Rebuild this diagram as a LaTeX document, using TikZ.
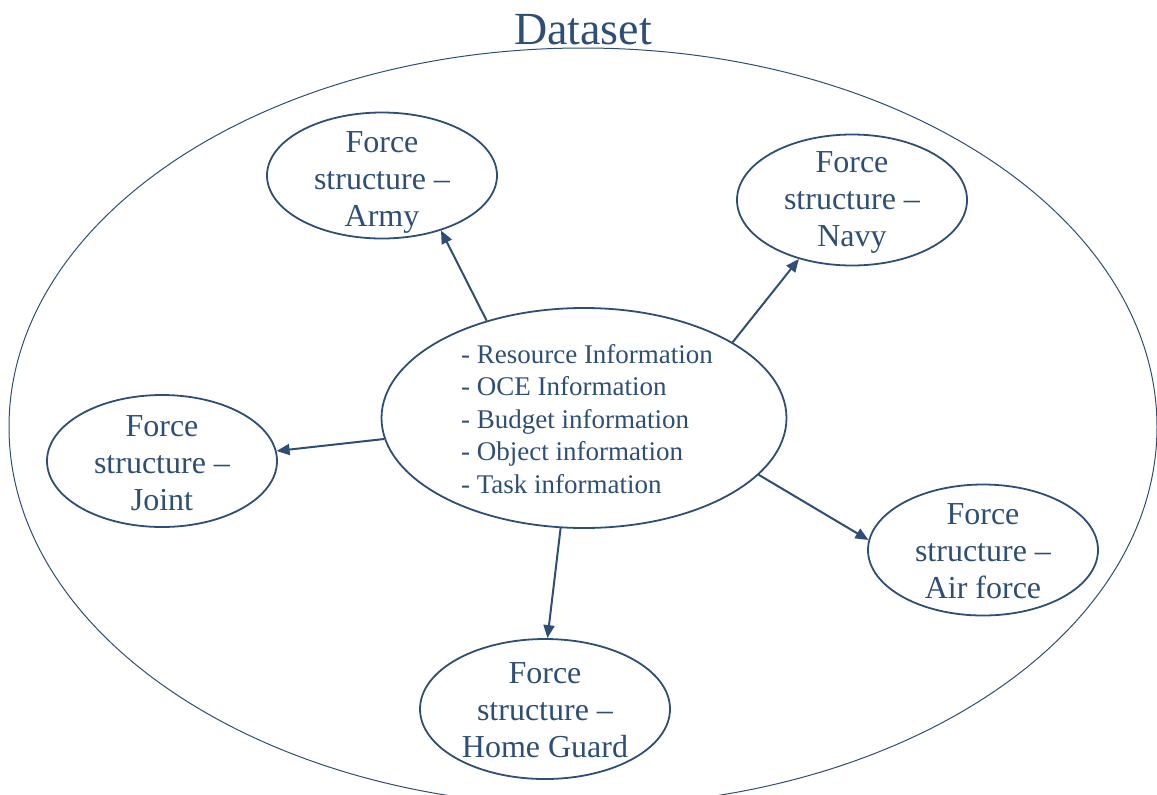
\documentclass[tikz,border=0pt]{standalone}
\usepackage{fontspec}
\setmainfont{Liberation Serif}
\usepackage{xcolor}
\usetikzlibrary{shapes.geometric, arrows.meta, positioning}
\definecolor{dsblue}{RGB}{46,78,117}
\tikzset{
    forcebox/.style={
        ellipse,
        draw=dsblue,
        line width=0.9pt,
        inner sep=0pt,
        minimum width=115pt,
        minimum height=65.5pt
    },
    forcetext/.style={
        align=center,
        text=dsblue,
        font=\fontsize{16}{18.5}\selectfont
    },
    infotext/.style={
        align=left,
        text=dsblue,
        font=\fontsize{13.5}{16.2}\selectfont
    },
    link/.style={
        draw=dsblue,
        line width=1pt,
        -{Triangle[length=6.5pt,width=5.5pt]}
    }
}

\begin{document}
\begin{tikzpicture}[x=0.5pt, y=-0.5pt]
\useasboundingbox (0,0) rectangle (1157,794);

% Dataset frame
\begin{scope}
\clip (0,0) rectangle (1157,794);
\draw[dsblue, line width=0.5pt] (583,427) ellipse (287pt and 189.5pt);
\end{scope}
\node[text=dsblue, font=\fontsize{23}{27}\selectfont] (title) at (583,30) {Dataset};

% Central information
\node[forcebox, minimum width=202.5pt, minimum height=110pt] (info) at (584,418) {};
\node[infotext] (infotxt) at (587,419) {- Resource Information\\- OCE Information\\- Budget information\\- Object information\\- Task information};

% Force structures
\node[forcebox, minimum height=63pt] (army) at (382,175.5) {};
\node[forcetext] (armytxt) at (382,182) {Force\\structure --\\Army};

\node[forcebox] (navy) at (852,200) {};
\node[forcetext] (navytxt) at (852,202) {Force\\structure --\\Navy};

\node[forcebox, minimum height=66pt] (joint) at (162,461) {};
\node[forcetext] (jointtxt) at (162,463) {Force\\structure --\\Joint};

\node[forcebox] (air) at (983,550) {};
\node[forcetext] (airtxt) at (983,551) {Force\\structure --\\Air force};

\node[forcebox, minimum width=125pt, minimum height=70pt] (home) at (545,709) {};
\node[forcetext] (hometxt) at (545,710) {Force\\structure --\\Home Guard};

% Links
\draw[link] (info.135) -- (army.-43);
\draw[link] (info.27) -- (navy.-132);
\draw[link] (info.-174) -- (joint.5);
\draw[link] (info.-18) -- (air.175);
\draw[link] (info.-102) -- (home.88);

\end{tikzpicture}
\end{document}
